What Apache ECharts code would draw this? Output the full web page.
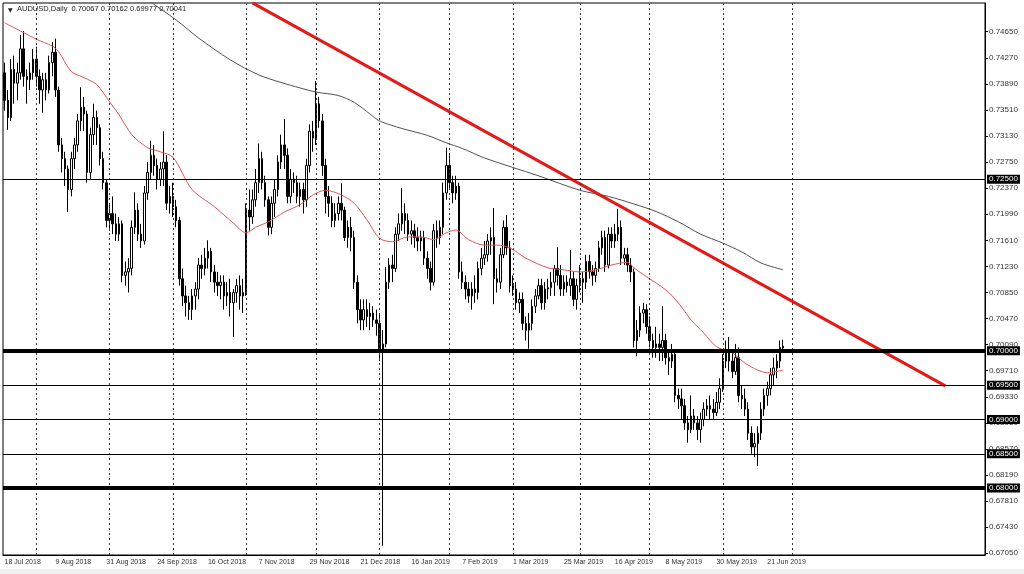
<!DOCTYPE html>
<html><head><meta charset="utf-8">
<script src="https://cdn.jsdelivr.net/npm/echarts@6/dist/echarts.min.js"></script>
<style>html,body{margin:0;padding:0;background:#fff}#c{width:1024px;height:574px}</style>
</head><body><div id="c"></div>
<script>
// ---------- DATA ----------
const header = 'AUDUSD,Daily  0.70067 0.70162 0.69977 0.70041';
const tickLabels = ['18 Jul 2018','9 Aug 2018','31 Aug 2018','24 Sep 2018','16 Oct 2018','7 Nov 2018','29 Nov 2018','21 Dec 2018','16 Jan 2019','7 Feb 2019','1 Mar 2019','25 Mar 2019','16 Apr 2019','8 May 2019','30 May 2019','21 Jun 2019'];
const yTicks = [0.67050,0.67430,0.67810,0.68190,0.68570,0.68950,0.69330,0.69710,0.70090,0.70470,0.70850,0.71230,0.71610,0.71990,0.72370,0.72750,0.73130,0.73510,0.73890,0.74270,0.74650];
const levels = [0.725, 0.700, 0.695, 0.690, 0.685, 0.680];
const thickLevels = [0.700, 0.680];
const monthStarts = [10,33,53,76,98,118,140,160,181,203,226,248];

// candles: [open, close, low, high]
const jul18 = [[0.7405,0.7365,0.7350,0.7420],[0.7365,0.7340,0.7322,0.7380],[0.7340,0.7410,0.7335,0.7425],[0.7410,0.7390,0.7360,0.7430],[0.7390,0.7405,0.7365,0.7420],[0.7405,0.7440,0.7395,0.7460],[0.7440,0.7400,0.7385,0.7466],[0.7400,0.7395,0.7360,0.7410],[0.7395,0.7405,0.7380,0.7420],[0.7405,0.7425,0.7395,0.7440]];
const aug18 = [[0.7425,0.7400,0.7385,0.7443],[0.7400,0.7380,0.7360,0.7410],[0.7380,0.7395,0.7347,0.7405],[0.7395,0.7380,0.7365,0.7405],[0.7380,0.7420,0.7375,0.7430],[0.7420,0.7435,0.7400,0.7450],[0.7435,0.7380,0.7370,0.7455],[0.7380,0.7300,0.7290,0.7385],[0.7300,0.7280,0.7260,0.7310],[0.7280,0.7265,0.7240,0.7290],[0.7265,0.7235,0.7202,0.7270],[0.7235,0.7280,0.7225,0.7290],[0.7280,0.7300,0.7265,0.7310],[0.7300,0.7335,0.7290,0.7345],[0.7335,0.7355,0.7320,0.7384],[0.7355,0.7345,0.7320,0.7370],[0.7345,0.7260,0.7245,0.7350],[0.7260,0.7315,0.7250,0.7325],[0.7315,0.7340,0.7300,0.7360],[0.7340,0.7325,0.7300,0.7350],[0.7325,0.7280,0.7270,0.7330],[0.7280,0.7245,0.7235,0.7290],[0.7245,0.7190,0.7180,0.7250]];
const sep18 = [[0.7190,0.7200,0.7175,0.7215],[0.7200,0.7185,0.7170,0.7225],[0.7185,0.7170,0.7160,0.7200],[0.7170,0.7185,0.7160,0.7195],[0.7185,0.7110,0.7100,0.7190],[0.7110,0.7115,0.7095,0.7130],[0.7115,0.7120,0.7085,0.7135],[0.7120,0.7180,0.7110,0.7190],[0.7180,0.7205,0.7170,0.7231],[0.7205,0.7170,0.7160,0.7215],[0.7170,0.7160,0.7150,0.7185],[0.7160,0.7230,0.7155,0.7240],[0.7230,0.7260,0.7220,0.7275],[0.7260,0.7285,0.7250,0.7306],[0.7285,0.7270,0.7255,0.7300],[0.7270,0.7250,0.7235,0.7280],[0.7250,0.7265,0.7240,0.7275],[0.7265,0.7275,0.7240,0.7320],[0.7275,0.7215,0.7205,0.7285],[0.7215,0.7225,0.7200,0.7240]];
const oct18 = [[0.7225,0.7210,0.7195,0.7245],[0.7210,0.7190,0.7180,0.7220],[0.7190,0.7105,0.7095,0.7195],[0.7105,0.7080,0.7065,0.7120],[0.7080,0.7070,0.7050,0.7095],[0.7070,0.7060,0.7045,0.7080],[0.7060,0.7080,0.7045,0.7090],[0.7080,0.7090,0.7060,0.7100],[0.7090,0.7125,0.7075,0.7135],[0.7125,0.7120,0.7105,0.7140],[0.7120,0.7135,0.7110,0.7150],[0.7135,0.7145,0.7120,0.7161],[0.7145,0.7115,0.7100,0.7150],[0.7115,0.7100,0.7085,0.7125],[0.7100,0.7095,0.7080,0.7115],[0.7095,0.7100,0.7075,0.7110],[0.7100,0.7080,0.7060,0.7110],[0.7080,0.7085,0.7065,0.7100],[0.7085,0.7070,0.7050,0.7105],[0.7070,0.7085,0.7020,0.7090],[0.7085,0.7095,0.7070,0.7105],[0.7095,0.7080,0.7060,0.7110],[0.7080,0.7085,0.7055,0.7105]];
const nov18 = [[0.7085,0.7205,0.7080,0.7215],[0.7205,0.7195,0.7175,0.7235],[0.7195,0.7220,0.7185,0.7235],[0.7220,0.7245,0.7210,0.7265],[0.7245,0.7280,0.7230,0.7302],[0.7280,0.7245,0.7235,0.7290],[0.7245,0.7220,0.7210,0.7255],[0.7220,0.7180,0.7168,0.7225],[0.7180,0.7215,0.7170,0.7225],[0.7215,0.7235,0.7195,0.7250],[0.7235,0.7275,0.7225,0.7285],[0.7275,0.7300,0.7265,0.7315],[0.7300,0.7285,0.7265,0.7338],[0.7285,0.7225,0.7215,0.7295],[0.7225,0.7250,0.7215,0.7265],[0.7250,0.7245,0.7230,0.7260],[0.7245,0.7225,0.7215,0.7255],[0.7225,0.7235,0.7210,0.7245],[0.7235,0.7220,0.7200,0.7245],[0.7220,0.7270,0.7210,0.7280],[0.7270,0.7320,0.7260,0.7330],[0.7320,0.7310,0.7290,0.7335]];
const dec18 = [[0.7310,0.7360,0.7300,0.7393],[0.7360,0.7335,0.7325,0.7370],[0.7335,0.7270,0.7255,0.7345],[0.7270,0.7225,0.7200,0.7280],[0.7225,0.7215,0.7195,0.7240],[0.7215,0.7190,0.7180,0.7225],[0.7190,0.7200,0.7180,0.7215],[0.7200,0.7215,0.7190,0.7225],[0.7215,0.7205,0.7190,0.7244],[0.7205,0.7165,0.7160,0.7210],[0.7165,0.7180,0.7150,0.7190],[0.7180,0.7165,0.7145,0.7195],[0.7165,0.7100,0.7090,0.7175],[0.7100,0.7060,0.7040,0.7110],[0.7060,0.7045,0.7030,0.7075],[0.7045,0.7060,0.7030,0.7075],[0.7060,0.7050,0.7035,0.7075],[0.7050,0.7055,0.7030,0.7070],[0.7055,0.7045,0.7035,0.7065],[0.7045,0.7040,0.7022,0.7060]];
const jan19 = [[0.7040,0.7000,0.6985,0.7055],[0.7000,0.7010,0.6716,0.7030],[0.7010,0.7100,0.7005,0.7122],[0.7100,0.7125,0.7090,0.7135],[0.7125,0.7120,0.7100,0.7140],[0.7120,0.7170,0.7115,0.7180],[0.7170,0.7185,0.7160,0.7200],[0.7185,0.7200,0.7175,0.7237],[0.7200,0.7190,0.7170,0.7215],[0.7190,0.7170,0.7160,0.7200],[0.7170,0.7175,0.7155,0.7190],[0.7175,0.7165,0.7150,0.7185],[0.7165,0.7160,0.7145,0.7180],[0.7160,0.7165,0.7145,0.7175],[0.7165,0.7135,0.7125,0.7175],[0.7135,0.7120,0.7105,0.7145],[0.7120,0.7100,0.7088,0.7130],[0.7100,0.7175,0.7095,0.7185],[0.7175,0.7165,0.7150,0.7190],[0.7165,0.7180,0.7155,0.7190],[0.7180,0.7230,0.7170,0.7245],[0.7230,0.7270,0.7220,0.7296]];
const feb19 = [[0.7270,0.7245,0.7235,0.7285],[0.7245,0.7230,0.7215,0.7255],[0.7230,0.7240,0.7220,0.7255],[0.7240,0.7115,0.7105,0.7245],[0.7115,0.7100,0.7090,0.7130],[0.7100,0.7090,0.7075,0.7110],[0.7090,0.7080,0.7070,0.7100],[0.7080,0.7090,0.7060,0.7100],[0.7090,0.7085,0.7070,0.7110],[0.7085,0.7120,0.7075,0.7130],[0.7120,0.7135,0.7110,0.7150],[0.7135,0.7140,0.7125,0.7160],[0.7140,0.7160,0.7130,0.7170],[0.7160,0.7165,0.7140,0.7180],[0.7165,0.7105,0.7068,0.7208],[0.7105,0.7100,0.7085,0.7120],[0.7100,0.7140,0.7090,0.7150],[0.7140,0.7180,0.7135,0.7190],[0.7180,0.7150,0.7140,0.7198],[0.7150,0.7095,0.7085,0.7160]];
const mar19 = [[0.7095,0.7090,0.7080,0.7110],[0.7090,0.7070,0.7060,0.7100],[0.7070,0.7075,0.7055,0.7085],[0.7075,0.7040,0.7030,0.7085],[0.7040,0.7030,0.7015,0.7050],[0.7030,0.7040,0.7003,0.7055],[0.7040,0.7065,0.7030,0.7075],[0.7065,0.7080,0.7055,0.7090],[0.7080,0.7095,0.7075,0.7105],[0.7095,0.7070,0.7060,0.7105],[0.7070,0.7090,0.7060,0.7100],[0.7090,0.7092,0.7075,0.7105],[0.7092,0.7100,0.7080,0.7115],[0.7100,0.7120,0.7080,0.7125],[0.7120,0.7110,0.7095,0.7151],[0.7110,0.7090,0.7080,0.7125],[0.7090,0.7100,0.7080,0.7110],[0.7100,0.7095,0.7085,0.7110],[0.7095,0.7105,0.7080,0.7147],[0.7105,0.7075,0.7065,0.7115],[0.7075,0.7095,0.7060,0.7105]];
const apr19 = [[0.7095,0.7105,0.7085,0.7125],[0.7105,0.7100,0.7070,0.7115],[0.7100,0.7130,0.7090,0.7140],[0.7130,0.7115,0.7105,0.7140],[0.7115,0.7110,0.7095,0.7125],[0.7110,0.7120,0.7100,0.7130],[0.7120,0.7150,0.7115,0.7160],[0.7150,0.7165,0.7140,0.7175],[0.7165,0.7125,0.7115,0.7175],[0.7125,0.7170,0.7120,0.7180],[0.7170,0.7160,0.7150,0.7180],[0.7160,0.7170,0.7150,0.7185],[0.7170,0.7180,0.7160,0.7207],[0.7180,0.7135,0.7125,0.7190],[0.7135,0.7140,0.7125,0.7150],[0.7140,0.7125,0.7115,0.7150],[0.7125,0.7115,0.7100,0.7135],[0.7115,0.7015,0.7005,0.7120],[0.7015,0.7030,0.6992,0.7045],[0.7030,0.7055,0.7020,0.7065],[0.7055,0.7060,0.7040,0.7070],[0.7060,0.7035,0.7025,0.7068]];
const may19 = [[0.7035,0.7015,0.7005,0.7050],[0.7015,0.7005,0.6990,0.7025],[0.7005,0.7010,0.6990,0.7035],[0.7010,0.7005,0.6985,0.7025],[0.7005,0.7015,0.6985,0.7065],[0.7015,0.6990,0.6980,0.7025],[0.6990,0.6985,0.6965,0.7000],[0.6985,0.6995,0.6975,0.7010],[0.6995,0.6935,0.6925,0.6998],[0.6935,0.6930,0.6915,0.6945],[0.6930,0.6920,0.6900,0.6945],[0.6920,0.6895,0.6885,0.6930],[0.6895,0.6885,0.6866,0.6905],[0.6885,0.6905,0.6880,0.6935],[0.6905,0.6895,0.6885,0.6915],[0.6895,0.6885,0.6870,0.6905],[0.6885,0.6900,0.6866,0.6910],[0.6900,0.6915,0.6890,0.6925],[0.6915,0.6920,0.6905,0.6930],[0.6920,0.6915,0.6900,0.6935],[0.6915,0.6910,0.6900,0.6930],[0.6910,0.6925,0.6905,0.6940],[0.6925,0.6945,0.6915,0.6960]];
const jun19 = [[0.6945,0.6985,0.6940,0.6995],[0.6985,0.7000,0.6975,0.7015],[0.7000,0.6985,0.6970,0.7020],[0.6985,0.6970,0.6960,0.7000],[0.6970,0.6990,0.6965,0.7010],[0.6990,0.6935,0.6925,0.7005],[0.6935,0.6930,0.6915,0.6950],[0.6930,0.6915,0.6905,0.6945],[0.6915,0.6880,0.6870,0.6925],[0.6880,0.6860,0.6850,0.6890],[0.6860,0.6865,0.6845,0.6880],[0.6865,0.6880,0.6832,0.6890],[0.6880,0.6915,0.6870,0.6925],[0.6915,0.6935,0.6905,0.6945],[0.6935,0.6945,0.6920,0.6955],[0.6945,0.6965,0.6935,0.6975],[0.6965,0.6975,0.6950,0.6990],[0.6975,0.6985,0.6960,0.6995],[0.6985,0.7005,0.6975,0.7015],[0.70067,0.70041,0.69977,0.70162]];

// moving averages: [bar index, value]
const ma50 = [[0,0.7478],[5,0.7466],[10,0.7454],[15,0.7444],[17,0.7436],[21,0.7407],[25,0.7398],[29,0.7388],[33,0.7363],[36,0.7344],[40,0.7315],[45,0.7296],[49,0.7290],[53,0.7282],[59,0.7235],[66,0.7210],[72,0.7186],[76,0.7172],[79,0.7180],[83,0.7188],[88,0.7202],[93,0.7213],[97,0.7227],[101,0.7234],[106,0.7227],[110,0.7215],[114,0.7191],[118,0.7164],[122,0.7159],[127,0.7166],[131,0.7166],[135,0.7162],[139,0.7172],[142,0.7176],[146,0.7162],[151,0.7154],[155,0.7154],[159,0.7150],[164,0.7135],[171,0.7121],[176,0.7118],[181,0.7115],[186,0.7118],[191,0.7125],[196,0.7129],[198,0.7121],[202,0.7108],[208,0.7089],[212,0.7070],[216,0.7045],[220,0.7026],[224,0.7006],[229,0.6997],[233,0.6982],[237,0.6972],[240,0.6968],[245,0.6972]];
const ma200 = [[46,0.7508],[54,0.7482],[61,0.7456],[71,0.7424],[80,0.7402],[87,0.7391],[93,0.7383],[98,0.7377],[105,0.7372],[110,0.7362],[115,0.7345],[118,0.7335],[125,0.7324],[133,0.7314],[139,0.7303],[144,0.7295],[151,0.7281],[168,0.7255],[181,0.7234],[190,0.7225],[198,0.7214],[205,0.7203],[212,0.7188],[219,0.7170],[226,0.7157],[232,0.7144],[238,0.7128],[245,0.7118]];
const trendLine = [[78,0.7507],[296,0.6949]];

// ---------- CHART ----------
const candles = [].concat(jul18, aug18, sep18, oct18, nov18, dec18, jan19, feb19, mar19, apr19, may19, jun19);
const slots = 309;
const cats = Array.from({length: slots}, (_, i) => String(i));
const showTick = (i) => i % 16 === 0 && i / 16 < tickLabels.length;
const FONT = 'Liberation Sans';

const chart = echarts.init(document.getElementById('c'), null, {renderer: 'canvas'});
chart.setOption({
  animation: false,
  backgroundColor: '#fff',
  grid: {left: 3, top: 3, width: 982, height: 552, show: true, borderColor: '#000', borderWidth: 1, backgroundColor: '#fff'},
  xAxis: {
    type: 'category', data: cats, boundaryGap: true,
    axisLine: {lineStyle: {color: '#000'}},
    axisTick: {interval: (i) => showTick(i), alignWithLabel: true, length: 3, lineStyle: {color: '#000'}},
    axisLabel: {interval: (i) => showTick(i), formatter: (v, i) => tickLabels[Math.round(i / 16)] || '',
      align: 'left', fontSize: 7, fontFamily: FONT, color: '#333', margin: 4},
    splitLine: {show: false}
  },
  yAxis: {
    type: 'value', position: 'right', min: 0.67025, max: 0.75068, scale: true,
    axisLine: {show: true, lineStyle: {color: '#000'}},
    axisTick: {show: true, customValues: yTicks, length: 3, lineStyle: {color: '#000'}},
    axisLabel: {customValues: yTicks, formatter: (v) => v.toFixed(5), fontSize: 8, fontFamily: FONT, color: '#333', margin: 4},
    splitLine: {show: false}
  },
  graphic: [
    {type: 'text', left: 8, top: 7, z: 100, style: {text: '\u25BC', fontSize: 6, fill: '#222', fontFamily: 'DejaVu Sans'}},
    {type: 'text', left: 17, top: 5, z: 100, style: {text: header, fontSize: 7.5, fill: '#222', fontFamily: FONT}},
    {type: 'rect', left: 0, top: 569, z: -1, shape: {width: 1024, height: 5}, style: {fill: '#f0f0f0'}}
  ],
  series: [
    {
      type: 'line', data: [], z: 1, silent: true,
      markLine: {silent: true, symbol: 'none', animation: false, label: {show: false},
        lineStyle: {type: [2, 3], color: '#333', width: 1},
        data: monthStarts.map(i => ({xAxis: i}))}
    },
    {
      type: 'candlestick', data: candles, barWidth: 2, z: 2,
      itemStyle: {color: '#fff', color0: '#000', borderColor: '#000', borderColor0: '#000', borderWidth: 1}
    },
    {
      type: 'line', data: ma50, showSymbol: false, smooth: 0.3, z: 3, silent: true,
      lineStyle: {color: '#e05555', width: 1}
    },
    {
      type: 'line', data: ma200, showSymbol: false, smooth: 0.3, z: 3, silent: true,
      lineStyle: {color: '#505050', width: 1}
    },
    {
      type: 'line', data: trendLine, showSymbol: false, z: 4, silent: true,
      lineStyle: {color: '#e31a1a', width: 3}
    },
    {
      type: 'line', data: [], z: 6, silent: true,
      markLine: {silent: true, symbol: 'none', animation: false, z: 6, precision: 5,
        data: levels.map(v => ({
          yAxis: v,
          lineStyle: {type: 'solid', color: '#000', width: thickLevels.includes(v) ? 4 : 1},
          label: {show: true, position: 'end', distance: 2, formatter: v.toFixed(5),
            backgroundColor: '#000', color: '#fff', fontSize: 8, fontFamily: FONT, padding: [1, 2, 0, 2]}
        }))}
    }
  ]
});
</script>
</body></html>
